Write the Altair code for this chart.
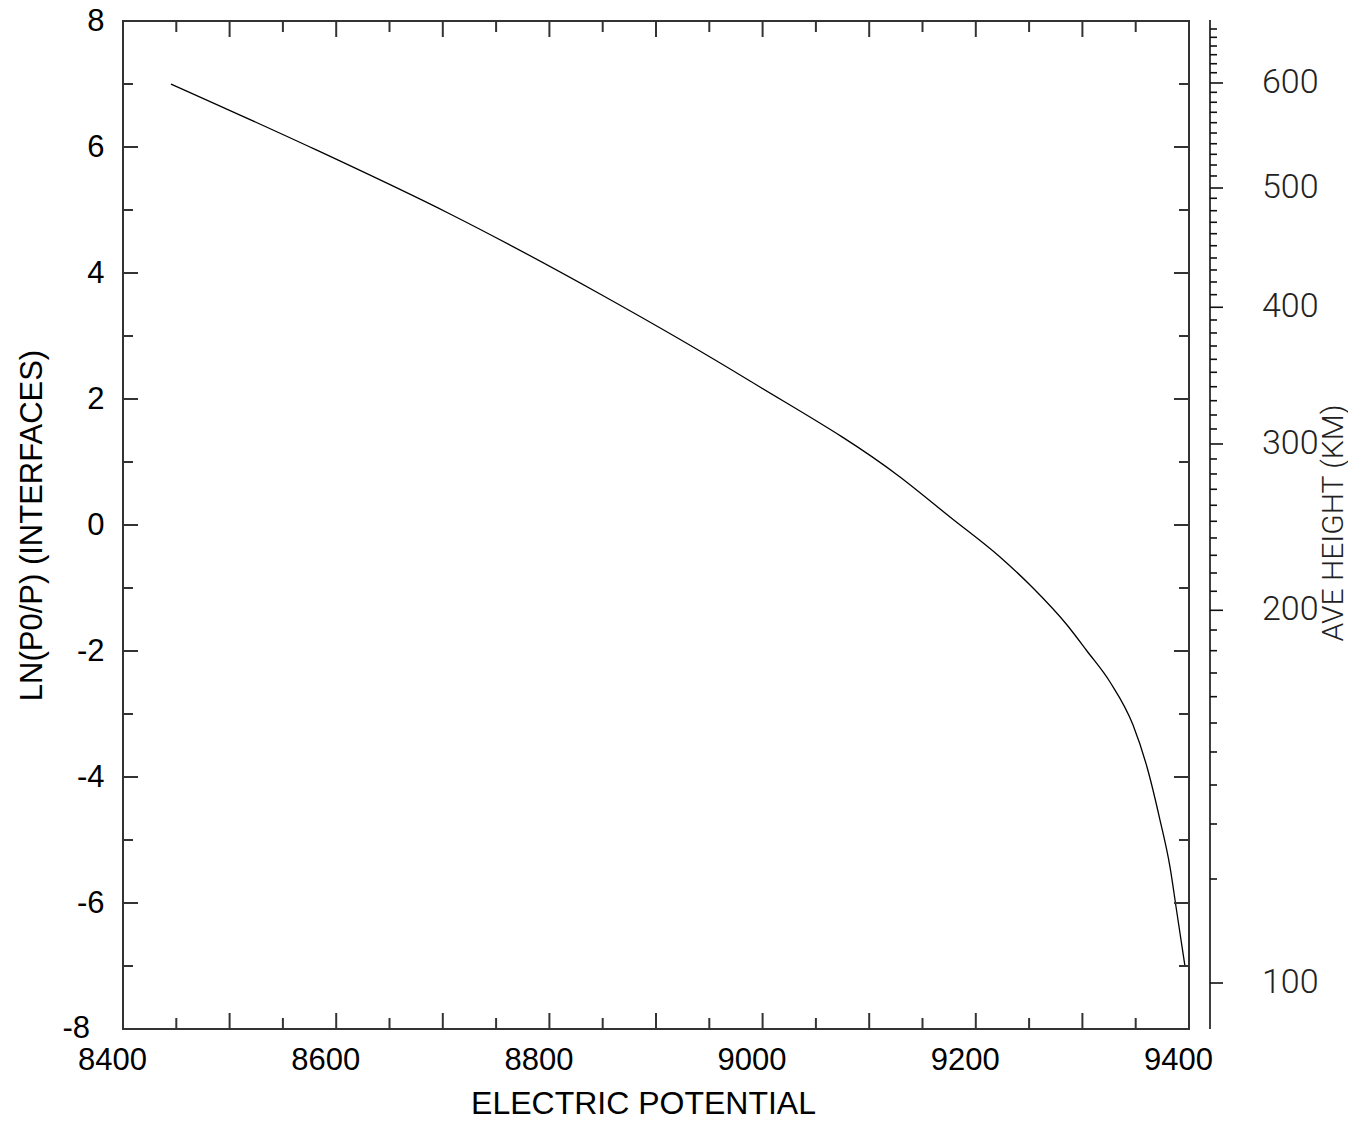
import altair as alt
import pandas as pd

# ---- data ----
potential = [8445.0, 8575.4, 8706.8, 8847.5, 8988.2, 9128.9, 9175.8, 9222.7, 9253.7,
             9285.6, 9304.3, 9325.9, 9347.5, 9360.6, 9372.8, 9382.2, 9388.7, 9396.2]
ln_p0_p = [7.0, 6.0, 4.937, 3.667, 2.286, 0.762, 0.127, -0.508, -1.0,
           -1.587, -2.0, -2.492, -3.175, -3.841, -4.683, -5.429, -6.159, -7.0]

heights = list(range(100, 670, 10))
height_ln = [-7.270, -5.619, -4.746, -4.127, -3.603, -3.143, -2.725, -2.349, -1.995, -1.667,
             -1.354, -1.052, -0.762, -0.481, -0.206, 0.059, 0.313, 0.567, 0.810, 1.048,
             1.286, 1.524, 1.746, 1.973, 2.195, 2.424, 2.630, 2.841, 3.048, 3.254,
             3.456, 3.656, 3.857, 4.048, 4.238, 4.433, 4.624, 4.805, 4.989, 5.186,
             5.349, 5.540, 5.714, 5.884, 6.052, 6.222, 6.386, 6.551, 6.710, 6.868,
             7.016, 7.179, 7.322, 7.465, 7.603, 7.741, 7.873]
height_labels = [100, 200, 300, 400, 500, 600]

x_labels = [8400, 8600, 8800, 9000, 9200, 9400]
y_labels = [-6, -4, -2, 0, 2, 4, 6, 8]
y_corner_label = [-8]
x_ticks = list(range(8450, 9400, 50))
y_ticks = list(range(-7, 8))

W, H = 1066, 1008
XD = [8400, 9400]
YD = [-8, 8]
LABEL_FONT = "Liberation Sans"
THIN = "Roboto"

xs = alt.Scale(domain=XD, nice=False, zero=False)
ys = alt.Scale(domain=YD, nice=False, zero=False)

x_axis = alt.Axis(values=x_labels, format="d", tickSize=0, domain=False, grid=False,
                  labelFont=LABEL_FONT, labelFontSize=31, labelColor="black",
                  labelPadding=16, labelOffset=-11, labelFlush=False, labelOverlap=False,
                  title="ELECTRIC POTENTIAL", titleFont=LABEL_FONT, titleFontSize=32,
                  titleFontWeight="normal", titleColor="black",
                  titleX=520, titleY=74, titleBaseline="middle", titleAlign="center")
y_axis = alt.Axis(values=y_labels, labelExpr="'' + datum.value",
                  tickSize=0, domain=False,
                  grid=False, labelFont=LABEL_FONT, labelFontSize=31, labelColor="black",
                  labelPadding=19, labelFlush=False, labelOverlap=False,
                  title="LN(P0/P) (INTERFACES)", titleFont=LABEL_FONT, titleFontSize=31,
                  titleFontWeight="normal", titleColor="black", titleAngle=270,
                  titleX=-91, titleY=504, titleBaseline="middle", titleAlign="center")

curve_df = pd.DataFrame({"potential": potential, "lnp": ln_p0_p})
xt_df = pd.DataFrame({"potential": x_ticks, "major": [v % 100 == 0 for v in x_ticks]})
yt_df = pd.DataFrame({"lnp": y_ticks, "major": [v % 2 == 0 for v in y_ticks]})
ht_df = pd.DataFrame({"h": heights, "lnp": height_ln,
                      "major": [h in height_labels for h in heights]})
hl_df = ht_df[ht_df["major"]].copy()
hl_df["label"] = hl_df["h"].astype(str)
corner_df = pd.DataFrame({"lnp": y_corner_label, "label": [str(v) for v in y_corner_label]})

X = alt.X("potential:Q", scale=xs, axis=x_axis)
Y = alt.Y("lnp:Q", scale=ys, axis=y_axis)

line = alt.Chart(curve_df).mark_line(color="black", strokeWidth=1.3,
                                      interpolate="monotone").encode(
    x=X, y=Y, order=alt.Order("potential:Q"))

TC = "#333"
TW = 2


def xtick_layer(major, top):
    d = xt_df[xt_df["major"] == major]
    L = 16 if major else 11
    if top:
        y1, y2 = 0, L
    else:
        y1, y2 = H, H - L
    return alt.Chart(d).mark_rule(color=TC, strokeWidth=TW).encode(
        x=X, y=alt.value(y1), y2=alt.value(y2))


def ytick_layer(major, right):
    d = yt_df[yt_df["major"] == major]
    L = 15 if major else 10
    if right:
        x1, x2 = W, W - L
    else:
        x1, x2 = 0, L
    return alt.Chart(d).mark_rule(color=TC, strokeWidth=TW).encode(
        y=Y, x=alt.value(x1), x2=alt.value(x2))


corner = alt.Chart(corner_df).mark_text(font=LABEL_FONT, fontSize=31, color="black",
                                        align="right", baseline="middle").encode(
    y=Y, x=alt.value(-33), text="label:N")

AX = W + 21
RC = "#111"
raxis_line = alt.Chart(pd.DataFrame({"a": [0]})).mark_rule(color=RC, strokeWidth=1.6).encode(
    x=alt.value(AX), y=alt.value(-1), y2=alt.value(H))
r_minor = alt.Chart(ht_df[~ht_df["major"]]).mark_rule(color=RC, strokeWidth=1.6).encode(
    y=Y, x=alt.value(AX), x2=alt.value(AX + 7))
r_major = alt.Chart(ht_df[ht_df["major"]]).mark_rule(color=RC, strokeWidth=1.6).encode(
    y=Y, x=alt.value(AX), x2=alt.value(AX + 13))
r_labels = alt.Chart(hl_df).mark_text(font=THIN, fontSize=34, color="#222", align="left",
                                      baseline="middle", fontWeight=300).encode(
    y=Y, x=alt.value(1139), text="label:N")
r_title = alt.Chart(pd.DataFrame({"a": [0]})).mark_text(
    text="AVE HEIGHT (KM)", font=THIN, fontSize=30, color="#222", angle=270,
    align="center", baseline="middle", fontWeight=300).encode(
    x=alt.value(1211), y=alt.value(502))

chart = alt.layer(
    line,
    xtick_layer(True, False), xtick_layer(False, False),
    xtick_layer(True, True), xtick_layer(False, True),
    ytick_layer(True, False), ytick_layer(False, False),
    ytick_layer(True, True), ytick_layer(False, True),
    corner,
    raxis_line, r_minor, r_major, r_labels, r_title,
).properties(
    width=W, height=H,
    background="white",
    autosize=alt.AutoSizeParams(type="none"),
    padding={"left": 115, "top": 13, "right": 159, "bottom": 88},
).configure_view(stroke="#333", strokeWidth=2)

chart.save("out.html", embed_options={"renderer": "svg", "actions": False})
